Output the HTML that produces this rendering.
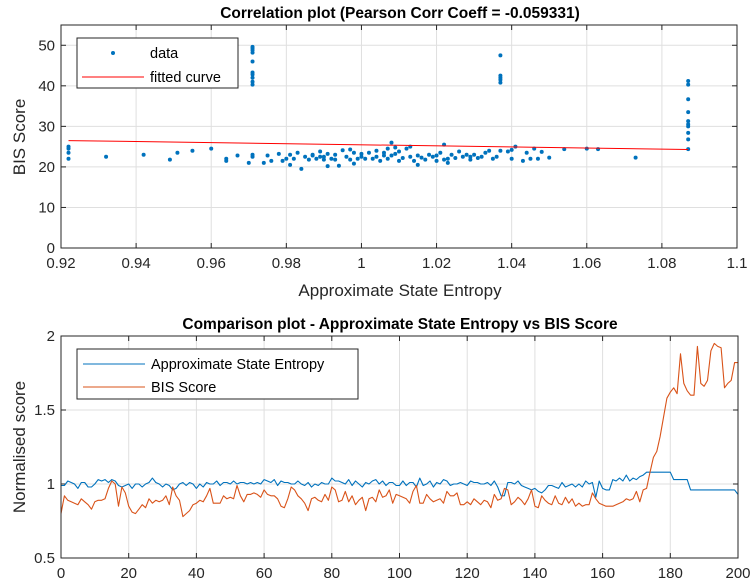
<!DOCTYPE html>
<html><head><meta charset="utf-8"><style>
body{margin:0;background:#fff;}
svg{display:block;font-family:"Liberation Sans",Arial,sans-serif;}
</style></head><body>
<svg id="fig" width="755" height="587" viewBox="0 0 755 587" xmlns="http://www.w3.org/2000/svg"></svg>
<script>
// ---- Top chart data ----
const scatterX = [0.922,0.922,0.922,0.922,0.932,0.942,0.949,0.951,0.955,0.960,0.964,0.964,0.967,0.970,0.971,0.971,0.971,0.971,0.971,0.971,0.971,0.971,0.971,0.971,0.971,0.971,0.974,0.975,0.976,0.978,0.979,0.980,0.981,0.981,0.982,0.983,0.984,0.985,0.986,0.987,0.987,0.988,0.989,0.989,0.990,0.990,0.991,0.991,0.992,0.993,0.993,0.994,0.995,0.996,0.997,0.997,0.998,0.998,0.999,1.000,1.000,1.001,1.002,1.003,1.004,1.004,1.005,1.006,1.006,1.007,1.007,1.008,1.008,1.009,1.009,1.010,1.010,1.011,1.012,1.013,1.013,1.014,1.015,1.015,1.016,1.017,1.018,1.019,1.020,1.020,1.021,1.022,1.022,1.023,1.023,1.024,1.025,1.026,1.027,1.028,1.029,1.029,1.030,1.031,1.032,1.033,1.034,1.035,1.036,1.037,1.037,1.037,1.037,1.037,1.037,1.039,1.040,1.040,1.041,1.043,1.044,1.045,1.046,1.047,1.048,1.050,1.054,1.060,1.063,1.073,1.087,1.087,1.087,1.087,1.087,1.087,1.087,1.087,1.087,1.087];
const scatterY = [22.0,23.5,24.5,25.0,22.5,23.0,21.8,23.5,24.0,24.5,21.5,22.0,22.8,21.0,40.3,41.0,42.0,42.8,43.3,46.0,48.2,48.8,49.3,49.6,22.5,23.0,21.0,22.8,21.5,23.2,21.5,22.0,20.5,23.0,22.0,23.5,19.5,22.5,21.8,22.8,23.0,22.0,22.5,23.8,21.8,22.5,20.2,23.2,22.0,21.8,23.0,20.3,24.1,22.5,21.8,24.3,20.8,23.5,22.0,22.5,23.2,22.0,23.5,22.0,22.5,24.0,21.5,22.8,23.5,22.0,24.5,22.8,26.0,23.2,24.8,21.5,23.8,22.2,24.5,25.0,22.5,21.5,22.8,20.5,22.3,21.8,23.0,22.5,21.5,22.8,23.5,21.8,25.5,22.0,21.0,23.0,22.2,23.8,22.5,23.0,21.8,22.5,23.0,22.2,22.5,23.5,24.0,22.0,22.5,24.0,40.8,41.5,42.0,42.5,47.5,23.8,22.0,24.2,25.0,21.5,23.5,22.0,24.5,22.0,23.7,22.3,24.4,24.5,24.4,22.3,41.2,40.3,36.7,33.5,31.3,30.5,30.0,28.4,26.8,24.4];
const fitIntercept = 38.76;
const fitSlope = -13.3;
const topXTicks = [0.92,0.94,0.96,0.98,1,1.02,1.04,1.06,1.08,1.1];
const topXTickLabels = ["0.92","0.94","0.96","0.98","1","1.02","1.04","1.06","1.08","1.1"];
const topYTicks = [0,10,20,30,40,50];

// ---- Bottom chart data ----
const aseSeries = [
0.99,0.99,1.02,1.01,1.00,0.97,1.01,1.01,0.98,0.98,
1.00,1.03,1.02,1.03,1.01,1.03,1.02,0.99,0.98,0.99,
1.00,0.97,1.00,1.00,0.98,1.00,1.01,1.04,1.01,1.00,
0.98,1.00,0.99,0.96,0.97,1.00,1.01,0.99,1.01,1.00,
0.97,1.00,0.98,1.01,1.00,1.00,1.02,0.99,1.01,1.01,
1.00,1.02,1.00,1.01,1.01,1.00,1.01,1.00,1.01,1.00,
1.03,1.02,1.01,1.03,0.99,1.02,1.01,1.01,1.00,1.00,
1.02,1.00,0.99,1.01,0.98,1.00,0.99,1.01,1.00,1.00,
1.04,1.02,1.02,1.01,1.00,1.03,0.99,1.02,1.00,0.98,
1.01,1.00,1.02,1.03,1.00,1.02,0.99,1.01,1.01,0.99,
0.99,1.02,0.99,1.01,1.01,0.98,1.04,0.99,1.00,1.02,
0.98,1.01,1.00,1.03,1.02,0.99,1.00,1.00,1.01,1.00,
0.99,1.02,1.01,1.01,1.00,1.00,1.01,0.99,1.02,0.98,
0.92,0.92,1.01,1.01,1.00,1.02,0.99,0.98,0.97,0.96,
0.97,0.95,0.94,0.96,0.99,0.99,0.98,0.97,1.01,0.98,
0.99,1.00,0.98,1.00,0.98,1.02,1.00,1.01,0.91,1.02,
0.97,0.96,0.96,1.03,1.02,1.04,1.02,1.06,1.02,1.04,
1.03,1.05,1.06,1.08,1.08,1.08,1.08,1.08,1.08,1.08,
1.08,1.03,1.03,1.03,1.03,1.03,0.96,0.96,0.96,0.96,
0.96,0.96,0.96,0.96,0.96,0.96,0.96,0.96,0.96,0.96,
0.93];
const bisSeries = [
0.80,0.92,0.89,0.88,0.87,0.86,0.90,0.88,0.86,0.83,
0.88,0.89,0.89,0.90,0.97,1.02,1.00,0.85,0.98,0.94,
0.85,0.81,0.80,0.83,0.86,0.84,0.90,0.87,0.89,0.88,
0.89,0.92,0.86,0.98,0.92,0.89,0.78,0.80,0.82,0.86,
0.87,0.89,0.88,0.92,0.97,0.87,0.87,0.87,0.92,0.90,
0.91,0.90,0.99,0.92,0.88,0.93,0.93,0.94,0.93,0.91,
0.96,0.93,0.92,0.92,0.90,0.85,0.84,0.90,0.98,0.96,
0.92,0.90,0.87,0.82,0.90,0.91,0.89,0.88,0.93,0.89,
0.98,0.96,0.88,0.89,0.95,0.88,0.92,0.86,0.89,0.91,
0.82,0.90,0.91,0.88,0.96,0.91,0.92,0.96,0.87,0.93,
0.92,0.91,0.90,0.87,0.95,0.99,0.87,0.87,0.93,0.90,
0.88,0.89,0.90,0.87,0.95,0.92,0.92,0.94,0.86,0.86,
0.88,0.86,0.90,0.88,0.86,0.89,0.88,0.84,0.93,0.89,
0.90,0.97,0.96,0.86,0.88,0.91,0.89,0.86,0.90,0.96,
0.85,0.84,0.92,0.89,0.87,0.86,0.92,0.87,0.86,0.91,
0.87,0.90,0.85,0.87,0.85,0.86,0.86,0.94,0.90,0.87,
0.86,0.85,0.85,0.85,0.86,0.87,0.88,0.90,0.89,0.90,
0.95,0.88,0.96,0.97,1.08,1.18,1.22,1.32,1.45,1.58,
1.62,1.65,1.61,1.88,1.68,1.63,1.60,1.60,1.93,1.68,
1.66,1.70,1.90,1.95,1.93,1.92,1.65,1.68,1.70,1.82,
1.82];
const botXTicks = [0,20,40,60,80,100,120,140,160,180,200];
const botYTicks = [0.5,1,1.5,2];
const botYTickLabels = ["0.5","1","1.5","2"];

const NS = "http://www.w3.org/2000/svg";
const svg = document.getElementById('fig');
function mk(tag, attrs, parent){const e=document.createElementNS(NS,tag);for(const k in attrs)e.setAttribute(k,attrs[k]);(parent||svg).appendChild(e);return e;}
function txt(s, attrs){const e=mk('text',attrs);e.textContent=s;return e;}

// Axes geometry
const T={l:61,r:737,t:25,b:248,x0:0.92,x1:1.1,y0:0,y1:55};
const B={l:61,r:738,t:336,b:558,x0:0,x1:200,y0:0.5,y1:2};
function sx(A,v){return A.l+(v-A.x0)/(A.x1-A.x0)*(A.r-A.l);}
function sy(A,v){return A.b-(v-A.y0)/(A.y1-A.y0)*(A.b-A.t);}

function drawAxes(A, xt, xl, yt, yl, name){
  const g=mk('g',{});
  
  
  mk('rect',{x:A.l,y:A.t,width:A.r-A.l,height:A.b-A.t,fill:'#fff'},g);
  xt.forEach((v,i)=>{const x=sx(A,v);
    const gl=mk('line',{x1:x,x2:x,y1:A.t,y2:A.b,stroke:'#dfdfdf','stroke-width':1},g);
    
    
    mk('line',{x1:x,x2:x,y1:A.b,y2:A.b-5,stroke:'#262626'},g);
    mk('line',{x1:x,x2:x,y1:A.t,y2:A.t+5,stroke:'#262626'},g);
    const t=txt(xl[i],{x:x,y:A.b+20,'text-anchor':'middle','font-size':'15px',fill:'#262626'});
    
    
  });
  yt.forEach((v,i)=>{const y=sy(A,v);
    const gl=mk('line',{x1:A.l,x2:A.r,y1:y,y2:y,stroke:'#dfdfdf','stroke-width':1},g);
    
    
    mk('line',{x1:A.l,x2:A.l+5,y1:y,y2:y,stroke:'#262626'},g);
    mk('line',{x1:A.r,x2:A.r-5,y1:y,y2:y,stroke:'#262626'},g);
    const t=txt(yl[i],{x:A.l-6,y:y+5,'text-anchor':'end','font-size':'15px',fill:'#262626'});
    
    
  });
}
function frame(A){const f=mk('rect',{x:A.l,y:A.t,width:A.r-A.l,height:A.b-A.t,fill:'none',stroke:'#262626','stroke-width':1});
  
  }

// ---- Top chart ----
drawAxes(T, topXTicks, topXTickLabels, topYTicks, topYTicks.map(String), 'correlation');
scatterX.forEach((xv,i)=>{
  const c=mk('circle',{cx:sx(T,xv),cy:sy(T,scatterY[i]),r:2,fill:'#0072bd'});
  
  
});
const fxa=scatterX.reduce((a,b)=>Math.min(a,b)), fxb=scatterX.reduce((a,b)=>Math.max(a,b));
const fl=mk('line',{x1:sx(T,fxa),y1:sy(T,fitIntercept+fitSlope*fxa),x2:sx(T,fxb),y2:sy(T,fitIntercept+fitSlope*fxb),stroke:'#ff0000','stroke-width':1});


frame(T);

// ---- Bottom chart ----
drawAxes(B, botXTicks, botXTicks.map(String), botYTicks, botYTickLabels, 'comparison');
function series(arr,color,name){
  const d=arr.map((v,i)=>(i?'L':'M')+sx(B,i).toFixed(1)+' '+sy(B,v).toFixed(1)).join(' ');
  const p=mk('path',{d:d,fill:'none',stroke:color,'stroke-width':1.1,'stroke-linejoin':'round'});
  
  
}
series(aseSeries,'#0072bd','ase-line');
series(bisSeries,'#d95319','bis-line');
frame(B);
</script>
<svg width="755" height="587" style="position:absolute;left:0;top:0" xmlns="http://www.w3.org/2000/svg">
  <g font-family="Liberation Sans, Arial, sans-serif">
    <text x="400" y="18" text-anchor="middle" font-size="15.5px" font-weight="bold" fill="#000">Correlation plot (Pearson Corr Coeff = -0.059331)</text>
    <text x="400" y="296" text-anchor="middle" font-size="17px" fill="#262626">Approximate State Entropy</text>
    <text transform="translate(25,137) rotate(-90)" text-anchor="middle" font-size="17px" fill="#262626">BIS Score</text>
    <g>
      <rect x="77" y="38" width="161" height="50" fill="#fff" stroke="#262626" stroke-width="1"/>
      <circle cx="113" cy="53" r="2" fill="#0072bd"/>
      <text x="150" y="58" font-size="14.5px" fill="#000">data</text>
      <line x1="82" x2="144" y1="77" y2="77" stroke="#ff0000"/>
      <text x="150" y="82" font-size="14.5px" fill="#000">fitted curve</text>
    </g>
    <text x="400" y="329" text-anchor="middle" font-size="15.5px" font-weight="bold" fill="#000">Comparison plot - Approximate State Entropy vs BIS Score</text>
    <text transform="translate(25,447) rotate(-90)" text-anchor="middle" font-size="17px" fill="#262626">Normalised score</text>
    <g>
      <rect x="77" y="349" width="281" height="50" fill="#fff" stroke="#262626" stroke-width="1"/>
      <line x1="83" x2="145" y1="364" y2="364" stroke="#0072bd"/>
      <text x="151" y="369" font-size="14.5px" fill="#000">Approximate State Entropy</text>
      <line x1="83" x2="145" y1="387" y2="387" stroke="#d95319"/>
      <text x="151" y="392" font-size="14.5px" fill="#000">BIS Score</text>
    </g>
  </g>
</svg>
</body></html>
